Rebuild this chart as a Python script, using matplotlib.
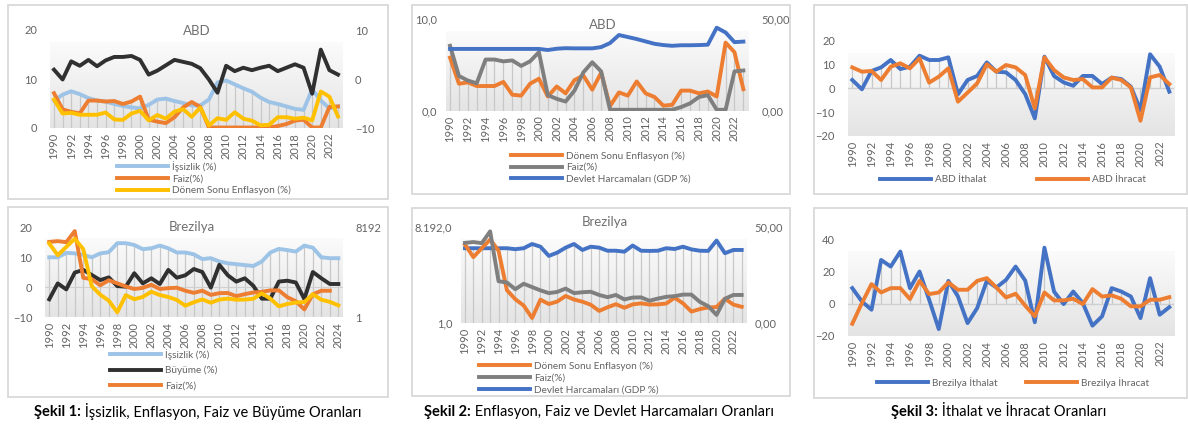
import numpy as np
import matplotlib
matplotlib.use("Agg")
import matplotlib.pyplot as plt
from matplotlib.patches import Rectangle
from matplotlib.colors import LinearSegmentedColormap
from matplotlib.ticker import NullLocator

W, H = 1188, 425
plt.rcParams["font.family"] = ["Lato", "DejaVu Sans"]

TXT = "#636363"
C_ISS = "#9dc3e6"
C_FAIZ = "#ed7d31"
C_ENF = "#ffc000"
C_BUY = "#303030"
C_GRI = "#7f7f7f"
C_MAVI = "#4472c4"

# ---- data ----
years_abd = list(range(1990, 2024))
years_brz = list(range(1990, 2025))

abd_issizlik = [5.6, 6.8, 7.5, 6.9, 6.1, 5.6, 5.4, 4.9, 4.5, 4.2, 4.0, 4.7, 5.8, 6.0, 5.5, 5.1, 4.6,
                4.6, 5.8, 9.3, 9.7, 8.9, 8.1, 7.4, 6.2, 5.3, 4.9, 4.4, 3.9, 3.7, 7.9, 5.6, 4.0, 4.4]
abd_faiz = [7.1, 3.8, 3.3, 3.0, 5.6, 5.6, 5.4, 5.5, 4.9, 5.4, 6.4, 1.7, 1.3, 1.0, 2.2, 4.2, 5.3,
            4.3, 0.1, 0.1, 0.1, 0.1, 0.1, 0.1, 0.1, 0.1, 0.4, 0.8, 1.5, 1.7, 0.1, 0.1, 4.3, 4.4]
abd_enf = [5.8, 2.95, 3.1, 2.7, 2.7, 2.7, 3.15, 1.75, 1.65, 2.95, 3.5, 1.55, 2.65, 1.9, 3.35, 3.85,
           2.3, 4.15, 0.5, 2.0, 1.65, 3.2, 1.9, 1.5, 0.55, 0.65, 2.2, 2.2, 1.9, 2.1, 1.55, 7.45, 6.4, 2.35]
abd_buyume = [1.9, -0.1, 3.6, 2.7, 3.9, 2.6, 3.8, 4.5, 4.5, 4.7, 3.9, 0.9, 1.7, 2.8, 3.9, 3.5, 3.1,
              2.2, -0.1, -2.8, 2.7, 1.6, 2.3, 1.8, 2.3, 2.7, 1.6, 2.3, 3.0, 2.3, -3.0, 6.0, 1.8, 0.9]
abd_devlet = [33.8, 33.8, 33.8, 33.8, 33.8, 33.8, 33.8, 33.8, 33.8, 33.8, 33.8, 33.2, 33.9, 34.2,
              34.1, 34.1, 34.1, 34.8, 37.0, 41.4, 40.3, 39.2, 37.9, 36.6, 35.9, 35.5, 35.8, 35.8,
              35.9, 36.1, 45.4, 42.8, 37.5, 37.8]
abd_ithalat = [3.5, -0.4, 7.3, 8.8, 11.9, 8.1, 9.1, 13.7, 11.9, 11.9, 13.0, -2.5, 3.5, 5.2, 10.9,
               7.0, 6.7, 3.5, -2.4, -12.6, 13.3, 5.2, 2.5, 1.1, 5.2, 5.2, 1.8, 4.5, 3.9, 0.7, -9.1,
               14.3, 9.1, -1.4]
abd_ihracat = [8.8, 7.0, 7.3, 3.5, 9.1, 10.5, 8.4, 12.6, 2.4, 4.9, 8.4, -5.6, -1.8, 2.1, 10.1, 7.0,
               9.8, 8.8, 5.6, -8.4, 13.0, 7.7, 4.6, 3.5, 3.9, 0.4, 0.4, 4.5, 3.5, 0.4, -13.6, 4.6,
               5.6, 1.8]

brz_issizlik = [10.0, 10.0, 11.5, 11.3, 10.8, 10.0, 11.3, 11.7, 14.7, 14.7, 14.1, 12.7, 13.0, 13.9,
                13.0, 11.6, 11.6, 11.0, 9.4, 9.7, 8.6, 8.0, 7.7, 7.4, 7.1, 8.6, 11.6, 12.8, 12.4,
                11.9, 13.9, 13.2, 10.0, 9.7, 9.7]
brz_buyume = [-4.0, 1.3, -0.7, 4.9, 5.8, 4.1, 2.4, 3.3, 0.4, 0.2, 4.7, 1.3, 3.0, 1.1, 5.8, 3.2,
              4.0, 6.1, 5.1, -0.1, 7.5, 4.0, 1.9, 3.0, 0.5, -3.8, -3.8, 1.9, 2.2, 1.6, -3.9, 5.1,
              3.0, 1.1, 1.1]
brz_enf = [1621, 500, 1150, 2600, 916, 22.4, 9.6, 5.3, 1.65, 9.2, 6.1, 7.7, 13.0, 9.3, 7.6, 5.7,
           3.2, 4.5, 6.0, 4.3, 5.9, 6.5, 5.8, 5.9, 6.4, 11.0, 6.5, 3.0, 3.8, 4.4, 4.6, 10.1, 5.8,
           4.7, 3.3]
brz_faiz = [1900, 2050, 1850, 5600, 52, 46, 24.5, 41, 30, 22, 17, 19, 26, 17, 18.5, 19.3, 14.3,
            11.6, 14.3, 9.4, 11.2, 11.4, 8.3, 10.2, 12.0, 12.8, 14.8, 14.8, 7.5, 5.0, 2.2, 10.0,
            14.3, 14.3]
brz_devlet = [39.1, 39.1, 39.1, 39.1, 39.1, 39.1, 38.6, 39.1, 41.3, 39.9, 35.1, 36.8, 39.4, 41.3,
              38.2, 39.9, 39.4, 37.8, 37.8, 37.3, 40.5, 37.8, 37.7, 37.8, 39.1, 38.7, 39.9, 38.5,
              37.8, 37.7, 43.1, 36.5, 38.2, 38.2]
brz_ithalat = [9.7, 1.4, -3.7, 27.2, 23.1, 32.4, 9.7, 20.0, 2.5, -15.7, 14.2, 4.5, -12.0, -2.7,
               14.2, 10.1, 14.8, 23.1, 14.4, -11.5, 34.8, 7.6, -0.2, 7.6, 0.4, -13.6, -7.8, 9.7,
               7.6, 4.5, -8.9, 15.9, -6.8, -2.1]
brz_ihracat = [-12.4, 0.4, 12.2, 7.0, 9.7, 9.7, 2.9, 14.2, 6.0, 7.0, 13.2, 8.7, 8.7, 14.2, 15.9,
               10.1, 3.9, 6.2, -1.2, -7.8, 7.0, 2.1, 2.1, 3.1, -0.2, 9.1, 4.5, 5.2, 3.1, -1.6, -1.6,
               2.5, 2.5, 4.1]

fig = plt.figure(figsize=(W / 100, H / 100), dpi=100)
grad_cm = LinearSegmentedColormap.from_list("g", ["#e4e4e4", "#fbfbfb"])
LW = 2.8


def rect(x0, y0, x1, y1):
    return [x0 / W, 1 - y1 / H, (x1 - x0) / W, (y1 - y0) / H]


def box(x0, y0, x1, y1):
    fig.patches.append(Rectangle((x0 / W, 1 - y1 / H), (x1 - x0) / W, (y1 - y0) / H,
                                 transform=fig.transFigure, fill=False, ec="#d9d9d9", lw=1.3))


def style(a, pad=7):
    for s in a.spines.values():
        s.set_visible(False)
    a.tick_params(length=0, labelsize=8, colors=TXT, pad=pad)


def make_axes(r, years):
    bg = fig.add_axes(r, zorder=0)
    bg.imshow(np.linspace(0, 1, 256).reshape(-1, 1), aspect="auto", cmap=grad_cm,
              extent=[0, 1, 0, 0.87], origin="lower")
    bg.set_xlim(0, 1)
    bg.set_ylim(0, 1)
    bg.axis("off")
    ax = fig.add_axes(r, zorder=1)
    ax.patch.set_visible(False)
    n = len(years)
    ax.set_xlim(-0.5, n - 0.5)
    ax.set_xticks(range(0, n, 2))
    ax.set_xticklabels([str(y) for y in years[::2]], rotation=90)
    style(ax)
    ax.tick_params(axis="x", pad=3.5)
    return ax


def legend(handles, labels, x, y, spacing=0.25, ncol=1, colsp=2.0):
    lg = fig.legend(handles, labels, loc="upper left", bbox_to_anchor=(x / W, 1 - y / H),
                    frameon=False, fontsize=7.2, handlelength=5.1, handletextpad=0.4,
                    labelspacing=spacing, borderpad=0, borderaxespad=0, ncol=ncol,
                    columnspacing=colsp)
    for t in lg.get_texts():
        t.set_color(TXT)


def title(xp, yp, s):
    fig.text(xp / W, 1 - yp / H, s, ha="center", va="center", color="#707070", fontsize=9.5)


# ---- Panel 1: ABD ----
box(8, 5, 388, 199)
x = np.arange(len(years_abd))
ax = make_axes(rect(49.7, 30, 342.3, 128), years_abd)
ax.set_ylim(0, 20)
ax.set_yticks([0, 10, 20])
top = np.max([abd_issizlik, abd_faiz, abd_enf], axis=0)
ax.vlines(x, 0, top, color="#c8c8c8", lw=0.9, zorder=1)
ax.axhline(0, color="#d0d0d0", lw=0.8)
l1, = ax.plot(x, abd_issizlik, color=C_ISS, lw=LW)
l2, = ax.plot(x, abd_faiz, color=C_FAIZ, lw=LW)
l3, = ax.plot(x, abd_enf, color=C_ENF, lw=LW)
ax2 = ax.twinx()
style(ax2, pad=9)
ax2.set_ylim(-10, 10)
ax2.set_yticks([-10, 0, 10])
ax2.plot(x, abd_buyume, color=C_BUY, lw=LW)
ax.tick_params(axis="y", pad=9)
title(197, 31, "ABD")
legend([l1, l2, l3], ["İşsizlik (%)", "Faiz(%)", "Dönem Sonu Enflasyon (%)"], 117, 161)

# ---- Panel 1: Brezilya ----
box(8, 207, 388, 397)
xb = np.arange(len(years_brz))
ax = make_axes(rect(45, 227.3, 342.6, 317.3), years_brz)
ax.set_ylim(-10, 20)
ax.set_yticks([-10, 0, 10, 20])
ax.vlines(xb, -10, brz_issizlik, color="#c8c8c8", lw=0.9, zorder=1)
ax.axhline(0, color="#d0d0d0", lw=0.8)
l1, = ax.plot(xb, brz_issizlik, color=C_ISS, lw=LW)
l2, = ax.plot(xb, brz_buyume, color=C_BUY, lw=LW)
ax.tick_params(axis="y", pad=9)
ax2 = ax.twinx()
style(ax2, pad=9)
ax2.set_yscale("log", base=2)
ax2.set_ylim(1, 8192)
ax2.set_yticks([1, 8192])
ax2.set_yticklabels(["1", "8192"])
ax2.yaxis.set_minor_locator(NullLocator())
l3, = ax2.plot(np.arange(len(brz_faiz)), brz_faiz, color=C_FAIZ, lw=LW)
ax2.plot(xb, brz_enf, color=C_ENF, lw=LW)
title(192, 227, "Brezilya")
legend([l1, l2, l3], ["İşsizlik (%)", "Büyüme (%)", "Faiz(%)"], 110, 349, spacing=0.6)

# ---- Panel 2: ABD ----
box(412, 5, 790, 194)
ax = make_axes(rect(445.6, 19.3, 747.8, 110.7), years_abd)
ax.set_ylim(0, 10)
ax.set_yticks([0, 10])
ax.set_yticklabels(["0,0", "10,0"])
ax.vlines(x, 0, np.maximum(abd_enf, abd_faiz), color="#c8c8c8", lw=0.9, zorder=1)
ax.axhline(0, color="#d0d0d0", lw=0.8)
l1, = ax.plot(x, abd_enf, color=C_FAIZ, lw=LW)
l2, = ax.plot(x, abd_faiz, color=C_GRI, lw=LW)
ax.tick_params(axis="y", pad=6)
ax2 = ax.twinx()
style(ax2, pad=10)
ax2.set_ylim(0, 50)
ax2.set_yticks([0, 50])
ax2.set_yticklabels(["0,00", "50,00"])
l3, = ax2.plot(x, abd_devlet, color=C_MAVI, lw=LW)
title(603, 25, "ABD")
legend([l1, l2, l3], ["Dönem Sonu Enflasyon (%)", "Faiz(%)", "Devlet Harcamaları (GDP %)"], 511, 151)

# ---- Panel 2: Brezilya ----
box(412, 208, 790, 396)
ax = make_axes(rect(460.8, 227.3, 745.9, 323.3), years_abd)
ax.set_yscale("log", base=2)
ax.set_ylim(1, 8192)
ax.set_yticks([1, 8192])
ax.set_yticklabels(["1,0", "8.192,0"])
ax.yaxis.set_minor_locator(NullLocator())
ax.tick_params(axis="y", pad=6)
l1, = ax.plot(x, brz_enf[:len(years_abd)], color=C_FAIZ, lw=LW)
l2, = ax.plot(x, brz_faiz, color=C_GRI, lw=LW)
ax2 = ax.twinx()
style(ax2, pad=6)
ax2.set_ylim(0, 50)
ax2.set_yticks([0, 50])
ax2.set_yticklabels(["0,00", "50,00"])
ax2.vlines(x, 0, brz_devlet, color="#c8c8c8", lw=0.9, zorder=0)
l3, = ax2.plot(x, brz_devlet, color=C_MAVI, lw=LW)
ax.set_zorder(2)
ax2.set_zorder(1)
ax.patch.set_visible(False)
title(605, 222, "Brezilya")
legend([l1, l2, l3], ["Dönem Sonu Enflasyon (%)", "Faiz(%)", "Devlet Harcamaları (GDP %)"], 479, 361,
       spacing=0.3)

# ---- Panel 3: ABD ----
box(814, 5, 1187, 194)
ax = make_axes(rect(847.5, 40.7, 1174.1, 136), years_abd)
ax.set_ylim(-20, 20)
ax.set_yticks([-20, -10, 0, 10, 20])
ax.tick_params(axis="y", pad=9)
ax.vlines(x, 0, np.maximum(abd_ithalat, abd_ihracat), color="#c8c8c8", lw=0.9, zorder=1)
ax.axhline(0, color="#cfcfcf", lw=1.0)
l1, = ax.plot(x, abd_ithalat, color=C_MAVI, lw=LW)
l2, = ax.plot(x, abd_ihracat, color=C_FAIZ, lw=LW)
legend([l1, l2], ["ABD İthalat", "ABD İhracat"], 880, 175, ncol=2, colsp=5.0)

# ---- Panel 3: Brezilya ----
box(814, 208, 1187, 398)
ax = make_axes(rect(847.5, 239.3, 1174.1, 336), years_abd)
ax.set_ylim(-20, 40)
ax.set_yticks([-20, 0, 20, 40])
ax.tick_params(axis="y", pad=9)
ax.vlines(x, 0, np.maximum(brz_ithalat, brz_ihracat), color="#c8c8c8", lw=0.9, zorder=1)
ax.axhline(0, color="#cfcfcf", lw=1.0)
l1, = ax.plot(x, brz_ithalat, color=C_MAVI, lw=LW)
l2, = ax.plot(x, brz_ihracat, color=C_FAIZ, lw=LW)
legend([l1, l2], ["Brezilya İthalat", "Brezilya İhracat"], 877, 377, ncol=2, colsp=2.8)

# ---- captions ----
captions = [(81, "Şekil 1:", " İşsizlik, Enflasyon, Faiz ve Büyüme Oranları"),
            (471, "Şekil 2:", " Enflasyon, Faiz ve Devlet Harcamaları Oranları"),
            (938, "Şekil 3:", " İthalat ve İhracat Oranları")]
for xc, bold, rest in captions:
    fig.text(xc / W, 1 - 412 / H, bold, ha="right", va="center", fontsize=10.5,
             fontweight="bold", color="black")
    fig.text(xc / W, 1 - 412 / H, rest, ha="left", va="center", fontsize=10.5, color="black")

fig.savefig("out.png", dpi=100)
